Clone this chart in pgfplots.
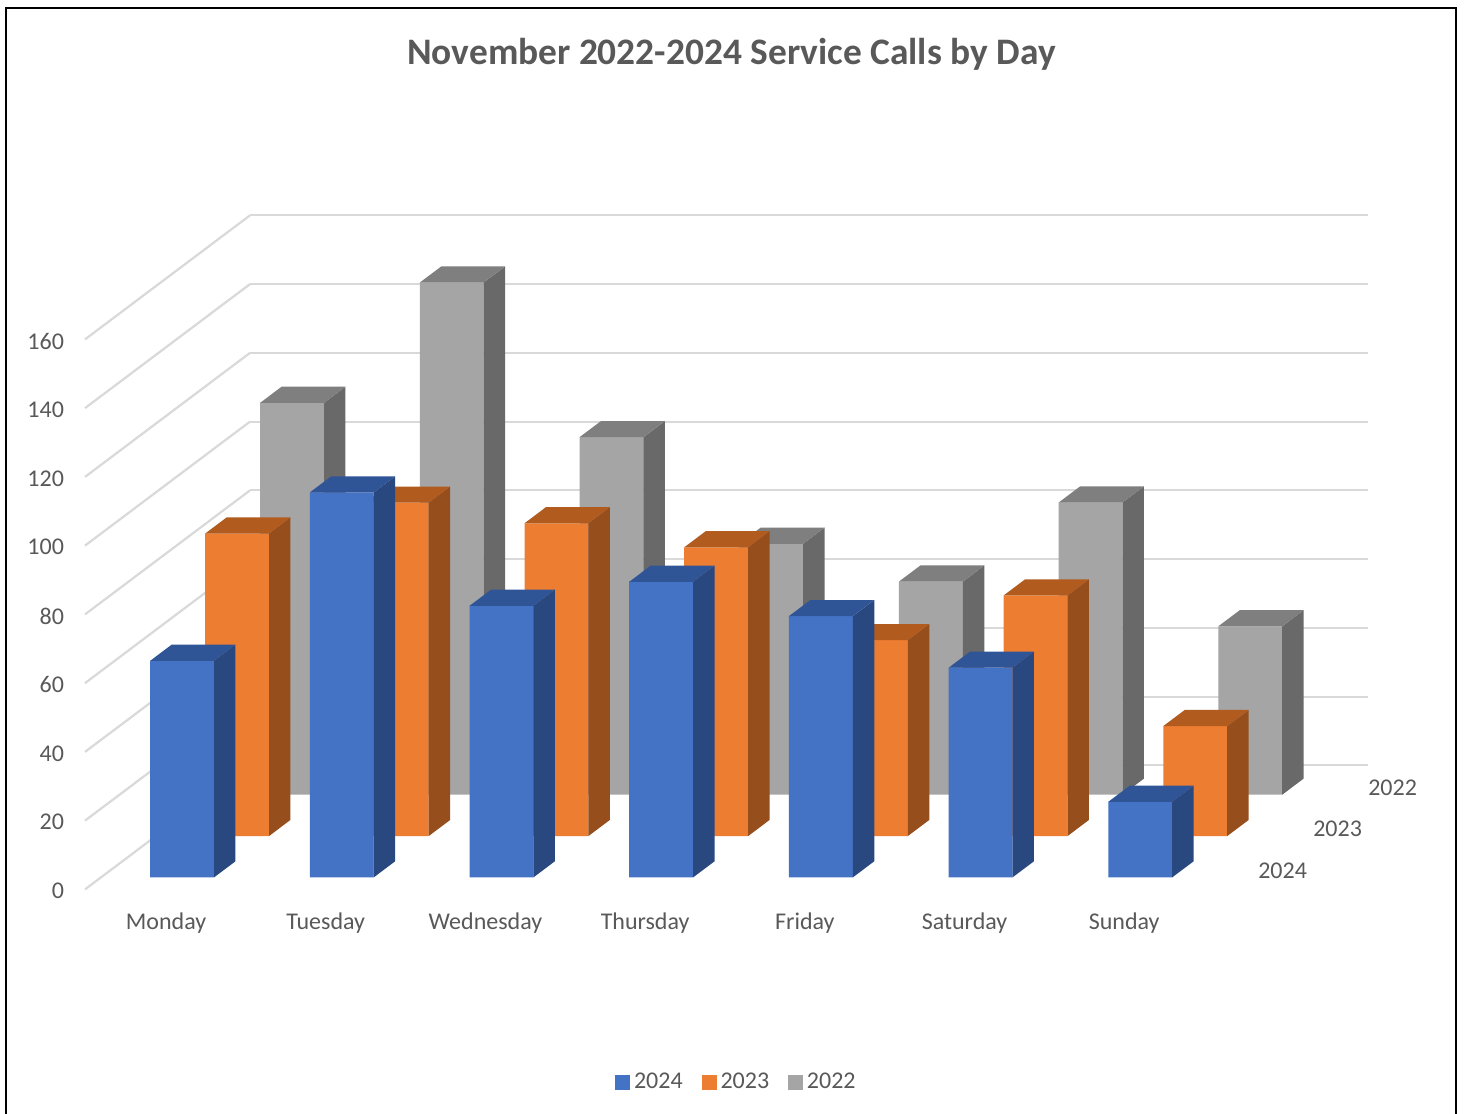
\documentclass[border=0pt]{standalone}
\usepackage{fontspec}
\setmainfont{Carlito}
\usepackage{pgfplots}
\pgfplotsset{compat=1.18}
\definecolor{txt}{HTML}{595959}
\definecolor{gridc}{HTML}{D9D9D9}
\definecolor{blueF}{HTML}{4472C4}
\definecolor{blueS}{HTML}{2A4880}
\definecolor{blueT}{HTML}{2F5597}
\definecolor{orangeF}{HTML}{ED7D31}
\definecolor{orangeS}{HTML}{964F1C}
\definecolor{orangeT}{HTML}{B25B1F}
\definecolor{grayF}{HTML}{A5A5A5}
\definecolor{grayS}{HTML}{696969}
\definecolor{grayT}{HTML}{7F7F7F}

% day index, row index, value, colour prefix
\newcommand{\drawbar}[4]{%
  \pgfmathsetmacro\xa{#1+0.308}%
  \pgfmathsetmacro\xb{#1+0.708}%
  \pgfmathsetmacro\ya{#2+0.29}%
  \pgfmathsetmacro\yb{#2+0.68}%
  \edef\front{(\xa,\ya,0) (\xb,\ya,0) (\xb,\ya,#3) (\xa,\ya,#3) (\xa,\ya,0)}%
  \edef\side{(\xb,\ya,0) (\xb,\yb,0) (\xb,\yb,#3) (\xb,\ya,#3) (\xb,\ya,0)}%
  \edef\toptop{(\xa,\ya,#3) (\xb,\ya,#3) (\xb,\yb,#3) (\xa,\yb,#3) (\xa,\ya,#3)}%
  \edef\doplots{%
    \noexpand\addplot3[forget plot,draw=none,fill=#4F] coordinates {\front};
    \noexpand\addplot3[forget plot,draw=none,fill=#4S] coordinates {\side};
    \noexpand\addplot3[forget plot,draw=none,fill=#4T] coordinates {\toptop};
  }%
  \doplots
}

\begin{document}
\begin{tikzpicture}
\useasboundingbox (0,0) rectangle (732pt,557pt);
\fill[white] (0,0) rectangle (732pt,557pt);
\draw[line width=1.3pt,black] (3pt,0) -- (3pt,553pt) -- (728pt,553pt) -- (728pt,0);
\begin{axis}[
    at={(42.5pt,112.3pt)}, anchor=origin,
    x={(79.85pt,0pt)}, y={(27.5pt,20.67pt)}, z={(0pt,1.71875pt)},
    xmin=0, xmax=7, ymin=0, ymax=3, zmin=0, zmax=160,
    clip=false,
    axis line style={draw=none},
    major tick length=0pt,
    zmajorgrids=true,
    grid style={draw=gridc,line width=1.1pt},
    ztick={0,20,...,160},
    xtick={0.5,1.5,...,6.5},
    xticklabels={Monday,Tuesday,Wednesday,Thursday,Friday,Saturday,Sunday},
    ytick={0.5,1.5,2.5},
    yticklabels={2024,2023,2022},
    yticklabel pos=left,
    zticklabel pos=left,
    tick label style={font=\fontsize{12}{14}\selectfont,text=txt},
    /pgf/number format/assume math mode=true,
    xticklabel style={anchor=base,xshift=0.6pt,yshift=-20pt},
    yticklabel style={anchor=west,xshift=10.4pt,yshift=-0.8pt},
    zticklabel style={anchor=east,xshift=-7pt,yshift=-0.8pt},
    title={November 2022-2024 Service Calls by Day},
    title style={font=\fontsize{18.7}{22}\selectfont\bfseries,text=txt,
      at={(axis description cs:0.5,1)},anchor=center,xshift=2.5pt,yshift=74.5pt},
    legend columns=3,
    legend style={draw=none,fill=none,font=\fontsize{12}{14}\selectfont,text=txt,
      at={(axis description cs:0.5,0)},anchor=center,xshift=5.5pt,yshift=-96.5pt,
      /tikz/every even column/.append style={column sep=7.5pt}},
    legend image code/.code={\fill[#1] (0pt,-3.5pt) rectangle (7pt,3.5pt);},
  ]
  \addlegendimage{blueF}\addlegendentry{2024}
  \addlegendimage{orangeF}\addlegendentry{2023}
  \addlegendimage{grayF}\addlegendentry{2022}
  % 2022 row
  \drawbar{0}{2}{114}{gray}
  \drawbar{1}{2}{149}{gray}
  \drawbar{2}{2}{104}{gray}
  \drawbar{3}{2}{73}{gray}
  \drawbar{4}{2}{62}{gray}
  \drawbar{5}{2}{85}{gray}
  \drawbar{6}{2}{49}{gray}
  % 2023 row
  \drawbar{0}{1}{88}{orange}
  \drawbar{1}{1}{97}{orange}
  \drawbar{2}{1}{91}{orange}
  \drawbar{3}{1}{84}{orange}
  \drawbar{4}{1}{57}{orange}
  \drawbar{5}{1}{70}{orange}
  \drawbar{6}{1}{32}{orange}
  % 2024 row
  \drawbar{0}{0}{63}{blue}
  \drawbar{1}{0}{112}{blue}
  \drawbar{2}{0}{79}{blue}
  \drawbar{3}{0}{86}{blue}
  \drawbar{4}{0}{76}{blue}
  \drawbar{5}{0}{61}{blue}
  \drawbar{6}{0}{22}{blue}
\end{axis}
\end{tikzpicture}
\end{document}
